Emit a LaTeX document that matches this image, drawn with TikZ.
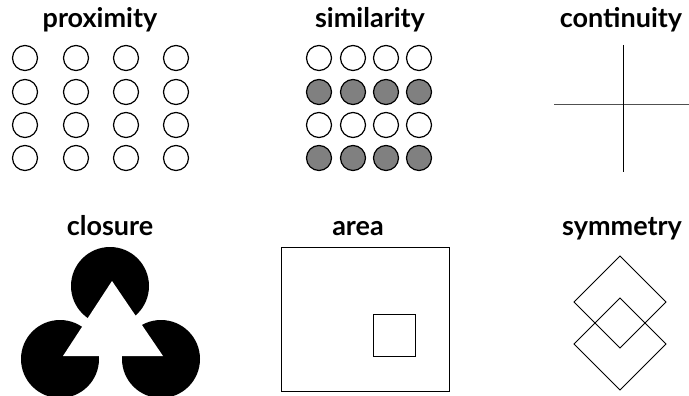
\documentclass[tikz,border=0pt]{standalone}
\usepackage{fontspec}
\setmainfont{Lato}
\begin{document}
\begin{tikzpicture}[x=1pt,y=-1pt,
  title/.style={font=\bfseries\fontsize{27}{28}\selectfont, anchor=base, inner sep=0pt},
  ring/.style={draw=black, line width=1.2pt, fill=white},
  grayring/.style={draw=black, line width=1.2pt, fill={rgb,255:red,128;green,128;blue,128}},
  thin/.style={line width=1pt}]
\useasboundingbox (0,0) rectangle (689,396);
% titles
\node[title] (tprox) at (100,28) {proximity};
\node[title] (tsim) at (370,28) {similarity};
\node[title] (tcont) at (621,28) {continuity};
\node[title] (tclos) at (110,235) {closure};
\node[title] (tarea) at (358,235) {area};
\node[title] (tsym) at (622,235) {symmetry};
% proximity
\foreach \x in {25,76,126,176}
  \foreach \y in {58,92,125,158}
    \draw[ring] (\x,\y) circle (12.5);
% similarity
\foreach \x in {319,353,386,419}{
  \foreach \y in {58,125}
    \draw[ring] (\x,\y) circle (12.5);
  \foreach \y in {92,158}
    \draw[grayring] (\x,\y) circle (12.5);
}
% continuity
\draw[thin, draw={rgb,255:red,80;green,80;blue,80}] (554,105) -- (689,105);
\draw[thin] (623,45) -- (623,172);
% closure
\fill[black] (110,286) circle (39);
\fill[black] (60,359) circle (39);
\fill[black] (161,359) circle (39);
\fill[white] (112,281) -- (63,356) -- (163,356) -- cycle;
% area
\draw[thin] (281,247) rectangle (449,391);
\draw[thin] (373,314) rectangle (415,356);
% symmetry
\draw[thin] (620,256) -- (666,302) -- (620,348) -- (574,302) -- cycle;
\draw[thin] (620,298) -- (666,344) -- (620,390) -- (574,344) -- cycle;
\end{tikzpicture}
\end{document}
